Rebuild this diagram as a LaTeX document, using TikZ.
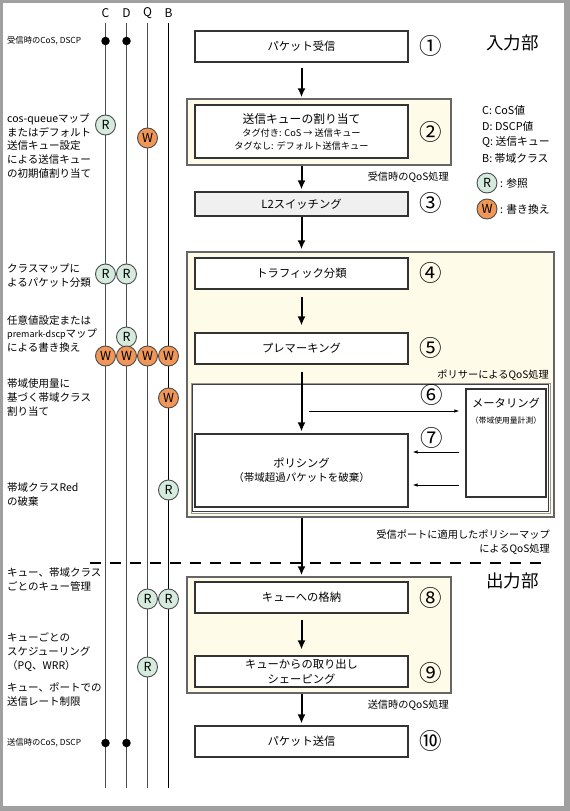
\documentclass[tikz,border=0pt]{standalone}
\usepackage{fontspec}
\setmainfont{Noto Sans CJK JP}
\usetikzlibrary{arrows.meta}
\definecolor{cream}{RGB}{254,251,233}
\definecolor{refgreen}{RGB}{212,235,222}
\definecolor{worange}{RGB}{240,150,86}
\definecolor{framegray}{RGB}{160,160,160}
\begin{document}
\begin{tikzpicture}[x=1pt,y=-1pt,
  box/.style={draw=black!80, line width=1.1pt, fill=white, minimum width=213pt, minimum height=31pt, inner sep=0pt, font=\fontsize{11.3}{14}\selectfont, align=center},
  grp/.style={draw=black!60, line width=1.4pt, fill=cream, inner sep=0pt},
  bigarrow/.style={line width=2pt, -{Latex[length=9pt,width=8pt]}},
  thinarrow/.style={line width=0.9pt, -{Latex[length=5pt,width=3.5pt]}},
  refc/.style={circle, draw=black!70, line width=0.9pt, fill=refgreen, minimum size=20pt, inner sep=0pt, font=\fontsize{12.5}{12.5}\selectfont},
  wrc/.style={refc, fill=worange},
  num/.style={font=\fontsize{22.5}{23}\selectfont, inner sep=0pt},
  lbl/.style={anchor=west, align=left, inner sep=0pt, font=\fontsize{10.5}{13.6}\selectfont},
  small/.style={anchor=west, inner sep=0pt, font=\fontsize{8.3}{10}\selectfont},
  grplbl/.style={inner sep=0pt, font=\fontsize{10.2}{14}\selectfont, align=right},
  leg/.style={anchor=west, inner sep=0pt, font=\fontsize{10.8}{12}\selectfont},
  head/.style={inner sep=0pt, font=\fontsize{12}{12}\selectfont},
  title/.style={anchor=west, inner sep=0pt, font=\fontsize{17.5}{18}\selectfont},
  coll/.style={line width=1pt, draw=black!70},
  dot/.style={circle, fill=black, minimum size=8.5pt, inner sep=0pt}
]
% frame
\useasboundingbox (0,0) rectangle (570,811);
\fill[framegray] (0,0) rectangle (570,811);
\fill[white] (2.5,2.5) rectangle (564,806);

% column headers and lines
\foreach \n/\x in {C/105.5, D/126.5, Q/147.5, B/168.5}{
  \node[head] (h\n) at (\x,13) {\n};
  \coordinate (\n t) at (\x,23);
  \coordinate (\n b) at (\x,788);
}
\draw[coll] (Ct) -- (Cb);
\draw[coll] (Dt) -- (Db);
\draw[coll] (Qt) -- (Qb);
\draw[line width=1pt, black] (Bt) -- (Bb);

% dots
\node[dot] (dC1) at (105.5,41) {};
\node[dot] (dD1) at (126.5,41) {};
\node[dot] (dC2) at (105.5,743) {};
\node[dot] (dD2) at (126.5,743) {};

% R / W markers
\node[refc] (r1) at (105.5,125) {R};
\node[wrc] (w1) at (147.5,138) {W};
\node[refc] (r2) at (105.5,274) {R};
\node[refc] (r3) at (126.5,274) {R};
\node[refc] (r4) at (126.5,337) {R};
\node[wrc] (w2) at (105.5,356) {W};
\node[wrc] (w3) at (126.5,356) {W};
\node[wrc] (w4) at (147.5,356) {W};
\node[wrc] (w5) at (168.5,356) {W};
\node[wrc] (w6) at (168.5,398) {W};
\node[refc] (r5) at (168.5,490) {R};
\node[refc] (r6) at (147.5,599) {R};
\node[refc] (r7) at (168.5,599) {R};
\node[refc] (r8) at (147.5,667) {R};

% left labels
\node[small] (l1) at (7,41) {受信時のCoS, DSCP};
\node[lbl] (l2) at (7,146) {cos-queueマップ\\またはデフォルト\\送信キュー設定\\による送信キュー\\の初期値割り当て};
\node[lbl] (l3) at (7,275.5) {クラスマップに\\よるパケット分類};
\node[lbl] (l4) at (7,334) {任意値設定または\\{\fontsize{9}{10}\selectfont premark-dscp}マップ\\による書き換え};
\node[lbl] (l5) at (7,397.5) {帯域使用量に\\基づく帯域クラス\\割り当て};
\node[lbl] (l6) at (7,494.5) {帯域クラスRed\\の破棄};
\node[lbl] (l7) at (7,579.5) {キュー、帯域クラス\\ごとのキュー管理};
\node[lbl] (l8) at (7,652) {キューごとの\\スケジューリング\\（PQ、WRR）};
\node[lbl] (l9) at (7,694.5) {キュー、ポートでの\\送信レート制限};
\node[small] (l10) at (7,743) {送信時のCoS, DSCP};

% groups
\node[grp, minimum width=264pt, minimum height=66pt] (g2) at (319,132) {};
\node[grp, minimum width=367pt, minimum height=265pt] (g4) at (370.5,384.5) {};
\node[grp, minimum width=264pt, minimum height=116pt] (g8) at (319,635) {};

% policer box (double line)
\node[draw=black!40, line width=1pt, fill=white, minimum width=359pt, minimum height=130pt, inner sep=0pt] (plc) at (370.5,448) {};
\draw[black!75, line width=0.9pt] (192.7,384.7) rectangle (548.3,511.3);

% boxes
\node[box] (b1) at (301.5,46.5) {パケット受信};
\node[box, minimum height=53pt, font=\fontsize{9.2}{13}\selectfont] (b2) at (301.5,131.5) {{\fontsize{11.8}{15}\selectfont 送信キューの割り当て}\\タグ付き: CoS → 送信キュー\\タグなし: デフォルト送信キュー};
\node[box, fill=black!6, minimum height=24pt] (b3) at (301.5,204) {L2スイッチング};
\node[box] (b4) at (301.5,273.5) {トラフィック分類};
\node[box] (b5) at (301.5,348.5) {プレマーキング};
\node[box, minimum height=73pt] (pol) at (301.5,470.5) {ポリシング\\{\fontsize{10.5}{14}\selectfont（帯域超過パケットを破棄）}};
\node[draw=black!80, line width=1.1pt, fill=white, minimum width=80pt, minimum height=108pt, inner sep=0pt] (meter) at (506,443) {};
\node[inner sep=0pt, align=center, font=\fontsize{11.3}{16}\selectfont] (mtext) at (506,411) {メータリング\\{\fontsize{7.8}{9}\selectfont （帯域使用量計測）}};
\node[box] (b8) at (301.5,597.5) {キューへの格納};
\node[box, font=\fontsize{11.3}{15.5}\selectfont] (b9) at (301.5,671.5) {キューからの取り出し\\シェーピング};
\node[box] (b10) at (301.5,741.5) {パケット送信};

% step numbers
\node[num] (n1) at (431,46) {①};
\node[num] (n2) at (431,132) {②};
\node[num] (n3) at (431,203) {③};
\node[num] (n4) at (431,273) {④};
\node[num] (n5) at (431,348) {⑤};
\node[num] (n6) at (432,395) {⑥};
\node[num] (n7) at (432,438) {⑦};
\node[num] (n8) at (431,598) {⑧};
\node[num] (n9) at (431,673) {⑨};
\node[num] (n10) at (431,741) {⑩};

% group labels
\node[grplbl, anchor=east] (gl2) at (449,177) {受信時のQoS処理};
\node[grplbl, anchor=east] (glp) at (549,375) {ポリサーによるQoS処理};
\node[grplbl, anchor=east] (gl4) at (550,542) {受信ポートに適用したポリシーマップ\\によるQoS処理};
\node[grplbl, anchor=east] (gl8) at (449,705) {送信時のQoS処理};

% titles
\node[title] (tin) at (486,43) {入力部};
\node[title] (tout) at (486,581) {出力部};

% legend
\node[leg] (lg1) at (482,110) {C: CoS値};
\node[leg] (lg2) at (482,126) {D: DSCP値};
\node[leg] (lg3) at (482,142) {Q: 送信キュー};
\node[leg] (lg4) at (482,158) {B: 帯域クラス};
\node[refc] (lgr) at (487,183) {R};
\node[leg] (lgrt) at (500,183) {: 参照};
\node[wrc] (lgw) at (487,209) {W};
\node[leg] (lgwt) at (500,209) {: 書き換え};

% separator
\coordinate (sepA) at (90,563);
\coordinate (sepB) at (550,563);
\draw[line width=1.5pt, dash pattern=on 11pt off 9pt] (sepA) -- (sepB);

% main flow arrows
\draw[bigarrow, shorten <=5pt, shorten >=1pt] (b1.south) -- (b1.south |- g2.north);
\draw[bigarrow, shorten >=2pt] (b3.north |- g2.south) -- (b3.north);
\draw[bigarrow, shorten >=2pt] (b3.south) -- (b3.south |- g4.north);
\draw[bigarrow, shorten <=7pt, shorten >=7pt] (b4.south) -- (b5.north);
\draw[bigarrow, shorten <=7pt, shorten >=2pt] (b5.south) -- (pol.north);
\draw[bigarrow, shorten >=1pt] (pol.south |- g4.south) -- (pol.south |- g8.north);
\draw[bigarrow, shorten <=6pt, shorten >=6pt] (b8.south) -- (b9.north);
\draw[bigarrow, shorten >=2pt] (b10.north |- g8.south) -- (b10.north);

% metering arrows
\coordinate (m6) at (309,411);
\coordinate (y7a) at (0,452);
\coordinate (y7b) at (0,485);
\draw[thinarrow, shorten >=6pt] (m6) -- (m6 -| meter.west);
\draw[thinarrow, shorten <=6pt, shorten >=4pt] (meter.west |- y7a) -- (pol.east |- y7a);
\draw[thinarrow, shorten <=6pt, shorten >=4pt] (meter.west |- y7b) -- (pol.east |- y7b);
\end{tikzpicture}
\end{document}
